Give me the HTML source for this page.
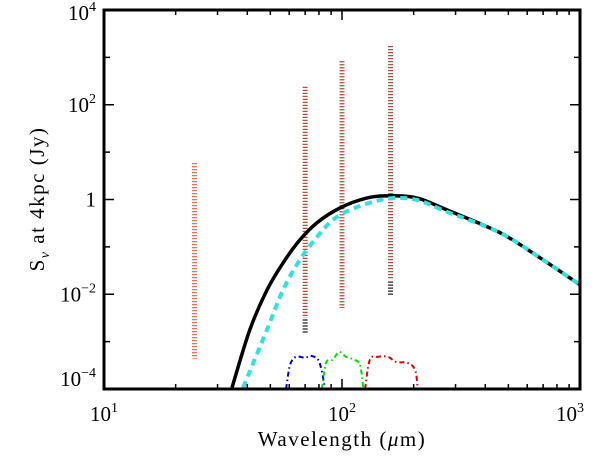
<!DOCTYPE html>
<html><head><meta charset="utf-8"><style>
body{margin:0;background:#fff}
svg{display:block;font-family:"Liberation Serif",serif}
</style></head><body>
<svg id="chart" width="600" height="461" viewBox="0 0 600 461">
<g id="plot"></g>
<text x="342" y="446" font-size="21" text-anchor="middle" letter-spacing="1.5">Wavelength (<tspan font-style="italic">μ</tspan>m)</text>
<text transform="translate(44,199) rotate(-90)" font-size="21" text-anchor="middle" letter-spacing="1.5">S<tspan font-size="14" dy="5" font-style="italic">ν</tspan><tspan dy="-5"> at 4kpc (Jy)</tspan></text>
</svg>
<script>
const modelLam=[34.5,41.0,48.4,56.5,66.6,78.5,98,127,159,207,276,461,679,1000];
const modelLogS=[-3.97,-2.75,-1.91,-1.34,-0.85,-0.49,-0.18,0.03,0.08,0.03,-0.22,-0.70,-1.23,-1.80];
const dustLam=[38.4,48.4,56.5,66.6,78.5,91.6,108,135,164,207,276,461,679,1000];
const dustLogS=[-3.97,-2.75,-1.91,-1.27,-0.79,-0.43,-0.22,-0.05,0.03,-0.01,-0.26,-0.70,-1.23,-1.80];
const blueLam=[58.2,60.5,64.1,70,74.1,79.3,82.4,84.8];
const blueLogS=[-4,-3.49,-3.32,-3.34,-3.30,-3.38,-3.64,-4];
const greenLam=[82.4,85.7,91.6,97.2,104,112,119,123];
const greenLogS=[-4,-3.45,-3.38,-3.22,-3.32,-3.38,-3.49,-4];
const redLam=[125,131,142,156,169,189,203,208];
const redLogS=[-4,-3.38,-3.32,-3.32,-3.43,-3.45,-3.60,-4];
const barLam=[24,70,100,160];
const barTopLog=[0.77,2.38,2.92,3.24];
const barBotLog=[-3.36,-2.5,-2.29,-1.7];
const barBlackBotLog=[-3.36,-2.81,-2.29,-2.01];
const yTickLabels=["10^-4","10^-2","1","10^2","10^4"];
const xTickLabels=["10^1","10^2","10^3"];

const L=104,R=580,T=10,B=389;
const xs=l=>L+(Math.log10(l)-1)/2*(R-L);
const ys=lg=>B-(lg+4)/8*(B-T);
const g=document.getElementById('plot');
const NS='http://www.w3.org/2000/svg';
function mk(t,a){const e=document.createElementNS(NS,t);for(const k in a)e.setAttribute(k,a[k]);g.appendChild(e);return e;}

barLam.forEach((l,i)=>{
  let e=mk('line',{x1:xs(l),x2:xs(l),y1:ys(barBlackBotLog[i]),y2:ys(barBotLog[i]),stroke:'#222','stroke-width':5,'stroke-dasharray':'1.2 1.8'});
  
  
  e=mk('line',{x1:xs(l),x2:xs(l),y1:ys(barTopLog[i]),y2:ys(barBotLog[i]),stroke:i==0?'#e8705c':'#b0503e','stroke-width':5,'stroke-dasharray':'1.2 1.8'});
  
  
});
function line(lam,lg,attrs,name,smooth){
  const p=lam.map((l,i)=>[xs(l),ys(lg[i])]);
  let d='M'+p[0][0].toFixed(1)+','+p[0][1].toFixed(1);
  for(let i=0;i<p.length-1;i++){
    if(!smooth){d+='L'+p[i+1][0].toFixed(1)+','+p[i+1][1].toFixed(1);continue;}
    const p0=p[Math.max(0,i-1)],p1=p[i],p2=p[i+1],p3=p[Math.min(p.length-1,i+2)];
    const c1=[p1[0]+(p2[0]-p0[0])/6,p1[1]+(p2[1]-p0[1])/6];
    const c2=[p2[0]-(p3[0]-p1[0])/6,p2[1]-(p3[1]-p1[1])/6];
    d+='C'+c1.map(v=>v.toFixed(1))+' '+c2.map(v=>v.toFixed(1))+' '+p2.map(v=>v.toFixed(1));
  }
  const e=mk('path',Object.assign({d,fill:'none'},attrs));
  
  
}
line(blueLam,blueLogS,{stroke:'#0000cc','stroke-width':2,'stroke-dasharray':'5 3 1.5 3'},'filter-70',true);
line(greenLam,greenLogS,{stroke:'#00dd00','stroke-width':2,'stroke-dasharray':'5 3 1.5 3'},'filter-100',true);
line(redLam,redLogS,{stroke:'#dd0000','stroke-width':2,'stroke-dasharray':'5 3 1.5 3'},'filter-160',true);
line(modelLam,modelLogS,{stroke:'#000','stroke-width':3.5,'stroke-linejoin':'round'},'total-model-curve',true);
line(dustLam,dustLogS,{stroke:'#33e0e0','stroke-width':4,'stroke-dasharray':'7 5'},'dust-model-curve',true);

let f=mk('rect',{x:L,y:T,width:R-L,height:B-T,fill:'none',stroke:'#000','stroke-width':3});


for(let d=1;d<=3;d++){for(let m=1;m<=9;m++){
  const v=Math.pow(10,d)*m; if(v>1000)break; const x=xs(v); const len=m==1?10:5;
  mk('line',{x1:x,x2:x,y1:B,y2:B-len,stroke:'#000','stroke-width':1.5});
  mk('line',{x1:x,x2:x,y1:T,y2:T+len,stroke:'#000','stroke-width':1.5});
}}
xTickLabels.forEach((s,i)=>{
  const [b,e]=s.split('^');const t=mk('text',{x:xs(Math.pow(10,i+1))+(i==2?-10:0),y:421,'font-size':21,'text-anchor':'middle'});
  t.innerHTML=b+'<tspan font-size="14" dy="-9">'+e+'</tspan>';
  
  
});
for(let p=-4;p<=4;p++){const y=ys(p);const len=p%2==0?10:6;
  mk('line',{x1:L,x2:L+len,y1:y,y2:y,stroke:'#000','stroke-width':1.5});
  mk('line',{x1:R,x2:R-len,y1:y,y2:y,stroke:'#000','stroke-width':1.5});
}
yTickLabels.forEach((s,i)=>{
  const p=-4+2*i;const y=ys(p)+(p==-4?-3:p==4?10:7);
  const t=mk('text',{x:96,y,'font-size':21,'text-anchor':'end'});
  if(s.includes('^')){const [b,e]=s.split('^');t.innerHTML=b+'<tspan font-size="14" dy="-9">'+e.replace('-','−')+'</tspan>';}
  else t.textContent=s;
  
  
});
</script>
</body></html>
